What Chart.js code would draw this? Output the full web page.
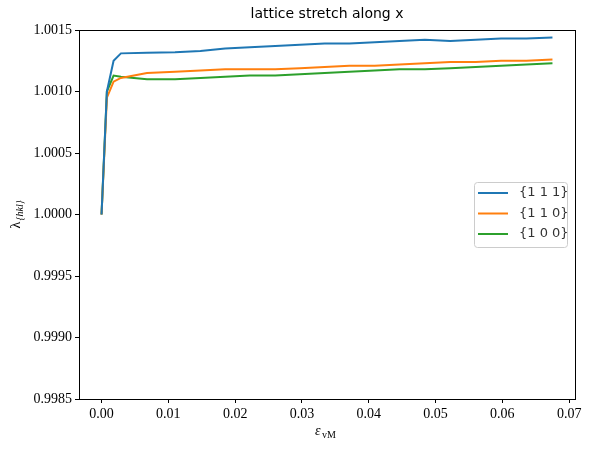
<!DOCTYPE html>
<html>
<head>
<meta charset="utf-8">
<script src="https://cdn.jsdelivr.net/npm/chart.js@4.4.1/dist/chart.umd.min.js"></script>
<style>
  html, body { margin: 0; padding: 0; background: #fff; }
  #wrap { width: 590px; height: 449px; position: relative; }
</style>
</head>
<body>
<div id="wrap"><canvas id="graphics"></canvas></div>
<script>
// strain values (x)
const strain = [0, 0.0008, 0.0018, 0.0029, 0.0068, 0.011, 0.0148, 0.0185, 0.0222, 0.026, 0.0297,
    0.0334, 0.0371, 0.0409, 0.0446, 0.0484, 0.0522, 0.056, 0.0598, 0.0636, 0.0675];

// lattice stretch per family
const fam111 = [1.0000, 1.00100, 1.00125, 1.00131, 1.001315, 1.00132, 1.00133, 1.00135, 1.00136, 1.00137, 1.00138,
    1.00139, 1.00139, 1.00140, 1.00141, 1.00142, 1.00141, 1.00142, 1.00143, 1.00143, 1.00144];
const fam110 = [1.0000, 1.00095, 1.00108, 1.00111, 1.00115, 1.00116, 1.00117, 1.00118, 1.00118, 1.00118, 1.00119,
    1.00120, 1.00121, 1.00121, 1.00122, 1.00123, 1.00124, 1.00124, 1.00125, 1.00125, 1.00126];
const fam100 = [1.0000, 1.00100, 1.00113, 1.00112, 1.00110, 1.00110, 1.00111, 1.00112, 1.00113, 1.00113, 1.00114,
    1.00115, 1.00116, 1.00117, 1.00118, 1.00118, 1.00119, 1.00120, 1.00121, 1.00122, 1.00123];

const seriesNames = ['{1 1 1}', '{1 1 0}', '{1 0 0}'];
const seriesColors = ['#1f77b4', '#ff7f0e', '#2ca02c'];

const xTicks = [0, 0.01, 0.02, 0.03, 0.04, 0.05, 0.06, 0.07];
const yTicks = [0.9985, 0.9990, 0.9995, 1.0000, 1.0005, 1.0010, 1.0015];

const titleText = 'lattice stretch along x';
const serif = '"Liberation Serif", "DejaVu Serif", serif';
const sans = '"DejaVu Sans", sans-serif';

const toPoints = (ys) => strain.map((x, i) => ({ x: x, y: ys[i] }));

// box, title, axis labels and legend drawn on the canvas
const decorations = {
    id: 'decorations',
    afterDraw(chart) {
        const c = chart.ctx;
        const a = chart.chartArea;
        c.save();
        c.strokeStyle = '#000';
        c.lineWidth = 1;
        c.strokeRect(Math.round(a.left) + 0.5, Math.round(a.top) + 0.5,
            Math.round(a.right - a.left), Math.round(a.bottom - a.top));

        c.fillStyle = '#000';
        c.font = '14px ' + sans;
        c.textAlign = 'center';
        c.textBaseline = 'alphabetic';
        c.fillText(titleText, (a.left + a.right) / 2, 18);

        // x label  ε_vM
        const cx = (a.left + a.right) / 2;
        c.font = 'italic 14px ' + serif;
        c.textAlign = 'left';
        c.fillText('ε', cx - 12, 435);
        c.font = '10px ' + serif;
        c.fillText('vM', cx - 5, 438);

        // y label  λ_{hkl}
        c.translate(20, (a.top + a.bottom) / 2);
        c.rotate(-Math.PI / 2);
        c.font = '14px ' + serif;
        c.fillText('λ', -14, 0);
        c.font = 'italic 10px ' + serif;
        c.fillText('{hkl}', -6, 3);
        c.restore();

        // legend
        c.save();
        const lx = a.right - 101, ly = a.top + 152;
        c.fillStyle = 'rgba(255,255,255,0.8)';
        c.strokeStyle = '#cccccc';
        c.lineWidth = 1;
        c.beginPath();
        c.roundRect(lx + 0.5, ly + 0.5, 93, 65, 3);
        c.fill();
        c.stroke();
        c.font = '13px ' + sans;
        c.textBaseline = 'middle';
        c.textAlign = 'left';
        seriesNames.forEach((name, i) => {
            const yy = ly + 11 + i * 20.5;
            c.strokeStyle = seriesColors[i];
            c.lineWidth = 2;
            c.beginPath();
            c.moveTo(lx + 4, yy);
            c.lineTo(lx + 34, yy);
            c.stroke();
            c.fillStyle = '#333';
            c.fillText(name, lx + 45, yy);
        });
        c.restore();
    }
};

const ctx = document.getElementById('graphics');

var myChart = new Chart(ctx, {
    type: 'line',
    data: {
        datasets: [fam111, fam110, fam100].map((ys, i) => ({
            label: seriesNames[i],
            data: toPoints(ys),
            borderColor: seriesColors[i],
            backgroundColor: seriesColors[i],
            borderWidth: 2,
            pointRadius: 0,
            tension: 0,
            fill: false
        }))
    },
    options: {
        responsive: true,
        maintainAspectRatio: false,
        animation: false,
        layout: { padding: { top: 30, right: 15, left: 0, bottom: 0 } },
        plugins: {
            legend: { display: false },
            title: { display: false },
            tooltip: { enabled: false }
        },
        scales: {
            x: {
                type: 'linear',
                min: -0.003375,
                max: 0.070875,
                afterBuildTicks: (scale) => { scale.ticks = xTicks.map(v => ({ value: v })); },
                afterFit: (scale) => { scale.height = 50; },
                grid: { drawOnChartArea: false, drawTicks: true, tickLength: 4, color: '#000' },
                border: { display: false },
                ticks: {
                    color: '#000',
                    padding: 3,
                    maxRotation: 0,
                    font: { family: serif, size: 14 },
                    callback: (v) => v.toFixed(2)
                }
            },
            y: {
                min: 0.9985,
                max: 1.0015,
                afterBuildTicks: (scale) => { scale.ticks = yTicks.map(v => ({ value: v })); },
                afterFit: (scale) => { scale.width = 79; },
                grid: { drawOnChartArea: false, drawTicks: true, tickLength: 4, color: '#000' },
                border: { display: false },
                ticks: {
                    color: '#000',
                    padding: 3,
                    font: { family: serif, size: 14 },
                    callback: (v) => v.toFixed(4)
                }
            }
        }
    },
    plugins: [decorations]
});
</script>
</body>
</html>
